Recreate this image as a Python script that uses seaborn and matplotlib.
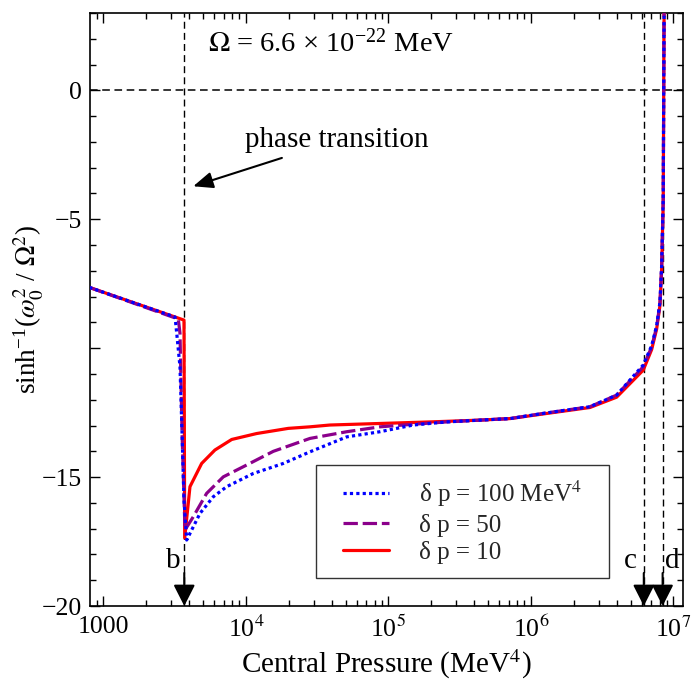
import numpy as np
import pandas as pd
import matplotlib
matplotlib.use("Agg")
import matplotlib.pyplot as plt
import seaborn as sns
from matplotlib.patches import Rectangle
from matplotlib.ticker import FixedLocator, FixedFormatter, LogLocator, NullFormatter, MultipleLocator

sns.set_theme(style="white")
plt.rcParams['font.family'] = ['Liberation Serif', 'DejaVu Serif']
plt.rcParams['mathtext.fontset'] = 'stix'

# ---- data (central pressure in MeV^4, y = asinh(omega0^2/Omega^2)) ----
p_red = [794, 3673, 3715, 4046, 4887, 6053, 7943, 11885, 19815, 28120, 38815, 87100,
         195400, 438500, 712900, 1219000, 2594000, 3990000, 6138000, 7031000,
         7621000, 8035000, 8260000, 8472000, 8610000]
y_red = [-7.64, -8.91, -17.36, -15.37, -14.47, -13.95, -13.54, -13.31, -13.11, -13.05, -12.98, -12.92,
         -12.86, -12.79, -12.73, -12.55, -12.30, -11.90, -10.85, -10.05, -9.25, -8.35, -6.95, -4.3, 4.0]

p_purple = [794, 3350, 3443, 3560, 3733, 4266, 5297, 6934, 10120, 15560, 28120, 50930, 87100,
            149300, 255900, 438500, 712900, 1219000, 2594000, 3990000, 6138000, 7031000,
            7621000, 8035000, 8260000, 8472000, 8610000]
y_purple = [-7.64, -8.87, -9.42, -13.3, -17.05, -16.54, -15.63, -14.99, -14.53, -14.0, -13.5, -13.24, -13.05,
            -12.95, -12.86, -12.79, -12.73, -12.53, -12.27, -11.82, -10.72, -9.95,
            -9.17, -8.27, -6.85, -4.26, 4.0]

p_blue = [794, 3180, 3266, 3443, 3560, 3673, 3837, 4753, 5902, 7328, 11250, 18280, 28120, 50930,
          87100, 149300, 255900, 438500, 712900, 1219000, 2594000, 3990000, 6138000, 7031000,
          7621000, 8035000, 8260000, 8472000, 8610000]
y_blue = [-7.64, -8.79, -9.42, -10.72, -13.3, -15.89, -17.44, -16.41, -15.76, -15.37, -14.86, -14.47, -14.02, -13.44,
          -13.24, -12.98, -12.86, -12.79, -12.73, -12.53, -12.27, -11.82, -10.65, -9.9,
          -9.12, -8.22, -6.8, -4.2, 4.0]

labels = [r'δ p = 100 MeV$^4$', 'δ p = 50', 'δ p = 10']

x_ticks = [1000, 1e4, 1e5, 1e6, 1e7]
x_ticklabels = ['1000', r'10$^4$', r'10$^5$', r'10$^6$', r'10$^7$']
y_ticks = [-20, -15, -10, -5, 0]
y_ticklabels = ['\u221220', '\u221215', '', '\u22125', '0']

p_transition = 3690
p_c = 6.19e6
p_d = 8.39e6

# ---- figure ----
fig = plt.figure(figsize=(6.91, 6.81), dpi=100)
ax = fig.add_axes([0.1302, 0.1101, 0.8582, 0.8708])

# reference lines
ax.axhline(0, color='black', lw=1.1, ls=(0, (5, 3)), zorder=1)
for xv in [p_transition, p_c, p_d]:
    ax.axvline(xv, color='black', lw=1.0, ls=(0, (5, 3)), zorder=1)

df_r = pd.DataFrame({'p': p_red, 'y': y_red})
df_p = pd.DataFrame({'p': p_purple, 'y': y_purple})
df_b = pd.DataFrame({'p': p_blue, 'y': y_blue})

sns.lineplot(data=df_r, x='p', y='y', ax=ax, color='#ff0000', lw=2.3, sort=False,
             estimator=None, zorder=3, label=labels[2])
sns.lineplot(data=df_p, x='p', y='y', ax=ax, color='#8b008b', lw=2.3, sort=False,
             estimator=None, zorder=4, label=labels[1])
sns.lineplot(data=df_b, x='p', y='y', ax=ax, color='#0000ff', lw=2.3, sort=False,
             estimator=None, zorder=5, label=labels[0])
lines = ax.get_lines()
lines[-2].set_linestyle((0, (4.5, 1.5)))
lines[-1].set_linestyle((0, (1, 1)))

ax.set_xscale('log')
ax.set_xlim(804, 1.166e7)
ax.set_ylim(-20, 3)

ax.xaxis.set_major_locator(FixedLocator(x_ticks))
ax.xaxis.set_major_formatter(FixedFormatter(x_ticklabels))
ax.xaxis.set_minor_locator(LogLocator(base=10, subs=np.arange(2, 10)))
ax.xaxis.set_minor_formatter(NullFormatter())
ax.yaxis.set_major_locator(FixedLocator(y_ticks))
ax.yaxis.set_major_formatter(FixedFormatter(y_ticklabels))
ax.yaxis.set_minor_locator(MultipleLocator(1))

ax.tick_params(which='both', direction='in', top=True, right=True, bottom=True, left=True,
               colors='black', labelsize=18.5, width=1.0)
ax.tick_params(which='major', length=7)
ax.tick_params(which='minor', length=4)
ax.tick_params(axis='x', pad=7)
ax.tick_params(axis='y', pad=6)

for s in ax.spines.values():
    s.set_color('black')
    s.set_linewidth(1.2)

ax.set_xlabel(r'Central Pressure (MeV$^4$)', fontsize=21, color='black', labelpad=4)
ax.set_ylabel(r'sinh$^{\mathregular{-1}}$($\omega_0^2$ / $\Omega^2$)', fontsize=19.5, color='black')
ax.yaxis.set_label_coords(-0.074, 0.5)

# annotations
ax.text(5410, 1.82, r'$\Omega$ = 6.6 × 10$^{\mathregular{-22}}$ MeV', fontsize=20.5, ha='left', va='center', color='black')
ax.annotate('phase transition', xy=(4266, -3.72), xytext=(9840, -1.94), fontsize=21,
            ha='left', va='center', color='black',
            arrowprops=dict(arrowstyle='-|>,head_length=0.6,head_width=0.25', mutation_scale=20,
                            color='black', lw=1.5, shrinkA=3, shrinkB=0))

for xv, lab, lx in [(p_transition, 'b', 3075), (p_c, 'c', 4.95e6), (p_d, 'd', 9.8e6)]:
    ax.annotate('', xy=(xv, -20), xytext=(xv, -18.72),
                arrowprops=dict(arrowstyle='-|>,head_length=0.65,head_width=0.33', mutation_scale=20,
                                color='black', lw=1.5, shrinkA=0, shrinkB=0),
                annotation_clip=False, zorder=6)
    ax.text(lx, -18.25, lab, fontsize=21, ha='center', va='center', color='black')

# legend box drawn as a frame, entries placed inside
ax.add_patch(Rectangle((0.381, 0.047), 0.494, 0.1906, transform=ax.transAxes, fill=True,
                       facecolor='white', edgecolor='#333333', lw=1.0, zorder=7))
handles, labs = ax.get_legend_handles_labels()
order = [2, 1, 0]
leg = ax.legend([handles[i] for i in order], [labs[i] for i in order],
                loc='center left', bbox_to_anchor=(0.4266, 0.1425), fontsize=18,
                frameon=False, handlelength=1.85, handletextpad=1.2, borderpad=0,
                labelspacing=0.18, borderaxespad=0)
leg.set_zorder(8)

fig.savefig('out.png', dpi=100)
